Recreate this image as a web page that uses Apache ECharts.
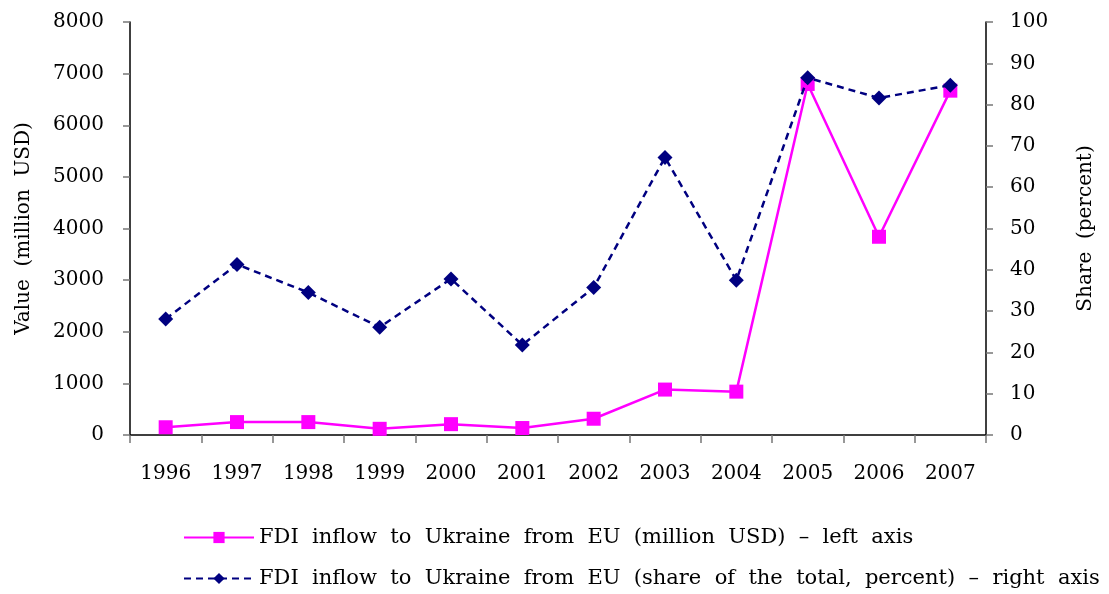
<!DOCTYPE html>
<html><head><meta charset="utf-8">
<script src="https://cdn.jsdelivr.net/npm/echarts@6/dist/echarts.min.js"></script>
<style>html,body{margin:0;padding:0;background:#fff}#c{width:1109px;height:594px}</style>
</head><body><div id="c"></div>
<script>
const years = ['1996','1997','1998','1999','2000','2001','2002','2003','2004','2005','2006','2007'];
const fdiValue = [150, 250, 250, 120, 210, 135, 315, 880, 840, 6800, 3840, 6670];
const fdiShare = [28.1, 41.3, 34.5, 26.1, 37.8, 21.8, 35.7, 67.2, 37.5, 86.5, 81.6, 84.7];
const nameValue = 'FDI inflow to Ukraine from EU (million USD) \u2013 left axis';
const nameShare = 'FDI inflow to Ukraine from EU (share of the total, percent) \u2013 right axis';
const F = 'DejaVu Serif';
const plain = v => String(v);
const chart = echarts.init(document.getElementById('c'), null, {renderer:'canvas'});
chart.setOption({
  animation:false,
  backgroundColor:'#fff',
  textStyle:{fontFamily:F, color:'#000'},
  grid:{left:130, right:123, top:22, bottom:159, containLabel:false},
  legend:{
    orient:'vertical', left:178, top:522, itemGap:20, itemWidth:70, itemHeight:14,
    formatter: n => n.replace(/ /g, '  '),
    textStyle:{fontFamily:F, fontSize:21, color:'#000'},
    data:[nameValue, nameShare]
  },
  xAxis:{
    type:'category', data:years, boundaryGap:true,
    axisLine:{lineStyle:{color:'#000', width:1.5}},
    axisTick:{show:true, length:8, lineStyle:{color:'#777', width:1.5}},
    axisLabel:{fontFamily:F, fontSize:20, color:'#000', margin:29}
  },
  yAxis:[
    {type:'value', min:0, max:8000, interval:1000, position:'left',
     name:'Value  (million  USD)', nameLocation:'middle', nameGap:96, nameRotate:90,
     nameTextStyle:{fontFamily:F, fontSize:20, color:'#000'},
     axisLine:{show:true, lineStyle:{color:'#000', width:1.5}},
     axisTick:{show:true, length:7, lineStyle:{color:'#777', width:1.5}},
     axisLabel:{fontFamily:F, fontSize:20, color:'#000', margin:26, formatter:plain},
     splitLine:{show:false}},
    {type:'value', min:0, max:100, interval:10, position:'right',
     name:'Share  (percent)', nameLocation:'middle', nameGap:90, nameRotate:90,
     nameTextStyle:{fontFamily:F, fontSize:20, color:'#000'},
     axisLine:{show:true, lineStyle:{color:'#000', width:1.5}},
     axisTick:{show:true, length:7, lineStyle:{color:'#777', width:1.5}},
     axisLabel:{fontFamily:F, fontSize:20, color:'#000', margin:24, formatter:plain},
     splitLine:{show:false}}
  ],
  series:[
    {name:nameValue, type:'line', yAxisIndex:0, data:fdiValue,
     symbol:'rect', symbolSize:14,
     lineStyle:{color:'#ff00ff', width:2.5}, itemStyle:{color:'#ff00ff'}, z:2},
    {name:nameShare, type:'line', yAxisIndex:1, data:fdiShare,
     symbol:'diamond', symbolSize:15,
     lineStyle:{color:'#000080', width:2.5, type:[7,5]}, itemStyle:{color:'#000080'}, z:3}
  ]
});
</script></body></html>
